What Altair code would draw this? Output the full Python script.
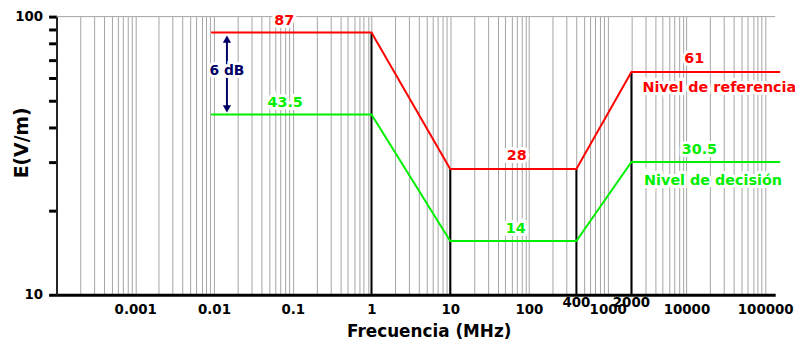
import altair as alt
import pandas as pd

# ---- data ----
freq = [0.0092, 1, 10, 400, 2000, 155000]
e_ref = [87.7, 87.7, 28.3, 28.3, 63.2, 63.2]
e_dec = [44.5, 44.5, 15.6, 15.6, 30.0, 30.0]

bar_freq = [1, 10, 400, 2000]
bar_top = [87.7, 28.3, 28.3, 63.2]

lab_text = ["87", "43.5", "28", "14", "61", "30.5"]
lab_f = [0.078, 0.08, 70, 68, 12600, 14600]
lab_e = [96, 49.0, 31.5, 17.2, 70.3, 33.1]
lab_col = ["#ff0000", "#00ee00", "#ff0000", "#00ee00", "#ff0000", "#00ee00"]

name_text = ["Nivel de referencia", "Nivel de decisión"]
name_f = [2760, 2900]
name_e = [55.4, 25.6]
name_col = ["#ff0000", "#00ee00"]

arrow_f = 0.0146
arrow_top, arrow_bot = 84.0, 46.5
head_up, head_down = 83.0, 46.6
db_e = 63.7

extra_ticks = [400, 2000]

grid_vals = [m * 10.0 ** k for k in range(-4, 5) for m in range(1, 10)] + [1e5]
y_vals = [10, 20, 30, 40, 50, 60, 70, 80, 90, 100]

W, H = 726, 281
FONT = "DejaVu Sans"

xs = alt.Scale(type="log", domain=[1e-4, 1.34e5])
ys = alt.Scale(type="log", domain=[10, 100])

X = alt.X("f:Q", scale=xs, axis=alt.Axis(
    title="Frecuencia (MHz)", values=grid_vals, grid=True, gridColor="#a4a4a4",
    gridWidth=1, ticks=False, domainColor="black", domainWidth=3,
    labelExpr="abs(log(datum.value)/LN10 - round(log(datum.value)/LN10)) < 0.001 && datum.value > 0.0005 ? format(datum.value, '~f') : ''",
    labelOverlap=False, labelFlush=False, labelPadding=8, labelFontSize=13.5,
    labelFontWeight="bold", labelColor="black", labelFont=FONT,
    titleFont=FONT, titleFontSize=17, titleFontWeight="bold", titleColor="black",
    titleX=376, titleY=37, titleBaseline="middle", titleAlign="center"))
Y = alt.Y("e:Q", scale=ys, axis=alt.Axis(
    title="E(V/m)", values=y_vals, grid=False, tickColor="black", tickWidth=3,
    tickSize=8, domainColor="#222222", domainWidth=2,
    labelExpr="datum.value == 10 || datum.value == 100 ? datum.label : ''",
    labelPadding=6, labelFontSize=13.5, labelFontWeight="bold", labelColor="black",
    labelFont=FONT, labelOverlap=False,
    titleFont=FONT, titleFontSize=19, titleFontWeight="bold", titleColor="black",
    titleAngle=270, titleX=-35, titleY=127, titleAlign="center", titleBaseline="middle"))

df_ref = pd.DataFrame({"f": freq, "e": e_ref})
df_dec = pd.DataFrame({"f": freq, "e": e_dec})
df_bar = pd.DataFrame({"f": bar_freq, "e": bar_top, "e0": [10] * len(bar_freq)})
df_lab = pd.DataFrame({"f": lab_f, "e": lab_e, "t": lab_text, "c": lab_col})
df_name = pd.DataFrame({"f": name_f, "e": name_e, "t": name_text, "c": name_col})
df_arrow = pd.DataFrame({"f": [arrow_f], "e": [arrow_top], "e2": [arrow_bot]})
df_up = pd.DataFrame({"f": [arrow_f], "e": [head_up]})
df_dn = pd.DataFrame({"f": [arrow_f], "e": [head_down]})
df_db = pd.DataFrame({"f": [arrow_f], "e": [db_e], "t": ["6 dB"]})
df_xt = pd.DataFrame({"f": extra_ticks, "t": [str(v) for v in extra_ticks]})

base_rule = alt.Chart(pd.DataFrame({"a": [0]})).mark_rule(color="#a4a4a4", strokeWidth=1).encode(
    x=alt.value(0), x2=alt.value(W), y=alt.value(0))

bars = alt.Chart(df_bar).mark_rule(color="black", strokeWidth=2).encode(x=X, y=Y, y2="e0:Q")
ref_line = alt.Chart(df_ref).mark_line(color="#ff0000", strokeWidth=2, clip=False).encode(x=X, y=Y)
dec_line = alt.Chart(df_dec).mark_line(color="#00ee00", strokeWidth=2, clip=False).encode(x=X, y=Y)

arrow = alt.Chart(df_arrow).mark_rule(color="#000066", strokeWidth=2).encode(x=X, y=Y, y2="e2:Q")
up = alt.Chart(df_up).mark_point(shape="triangle-up", filled=True, size=70, color="#000066", opacity=1).encode(x=X, y=Y)
dn = alt.Chart(df_dn).mark_point(shape="triangle-down", filled=True, size=70, color="#000066", opacity=1).encode(x=X, y=Y)


def text_layers(df, size, align="center"):
    halo = alt.Chart(df).mark_text(font=FONT, fontSize=size, fontWeight="bold", align=align,
                                   baseline="middle", stroke="white", strokeWidth=6,
                                   fill="white").encode(x=X, y=Y, text="t:N")
    txt = alt.Chart(df).mark_text(font=FONT, fontSize=size, fontWeight="bold", align=align,
                                  baseline="middle").encode(
        x=X, y=Y, text="t:N", color=alt.Color("c:N", scale=None))
    return halo, txt


lab_h, lab_t = text_layers(df_lab, 14.5)
name_h, name_t = text_layers(df_name, 14.5, align="left")
db_halo = alt.Chart(df_db).mark_text(font=FONT, fontSize=14, fontWeight="bold", baseline="middle",
                                     stroke="white", strokeWidth=6, fill="white").encode(x=X, y=Y, text="t:N")
db_text = alt.Chart(df_db).mark_text(font=FONT, fontSize=14, fontWeight="bold", baseline="middle",
                                     color="#000066").encode(x=X, y=Y, text="t:N")
xt = alt.Chart(df_xt).mark_text(font=FONT, fontSize=13.5, fontWeight="bold", baseline="middle",
                                color="black", dy=8).encode(x=X, y=alt.datum(10), text="t:N")

chart = alt.layer(
    base_rule, bars, ref_line, dec_line, arrow, up, dn,
    lab_h, name_h, db_halo, lab_t, name_t, db_text, xt
).properties(
    width=W, height=H,
    autosize=alt.AutoSizeParams(type="none"),
    padding={"left": 49, "top": 7, "right": 20, "bottom": 45},
    background="white",
).configure_view(stroke=None)

chart.save("out.html", embed_options={"renderer": "svg", "actions": False})
